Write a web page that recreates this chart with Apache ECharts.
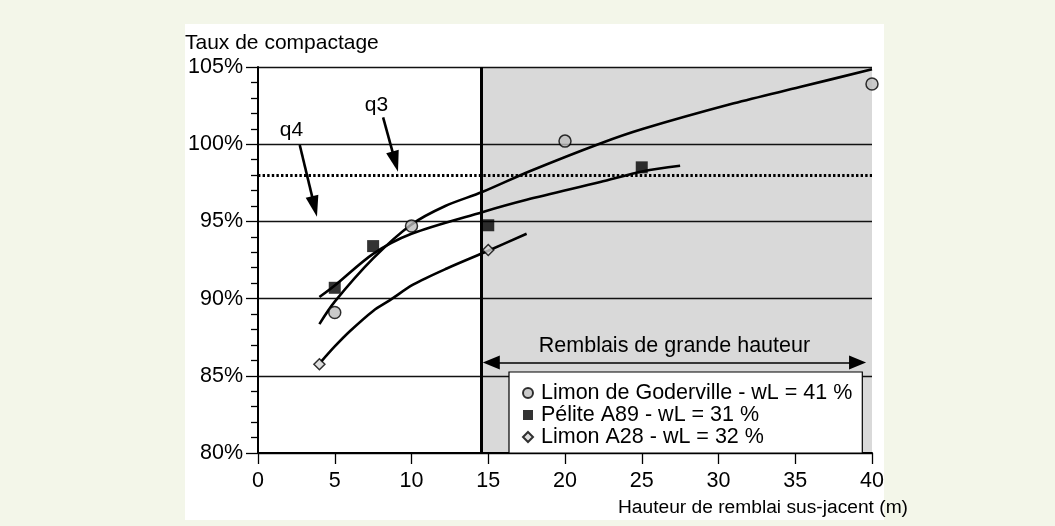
<!DOCTYPE html>
<html><head><meta charset="utf-8">
<script src="https://cdn.jsdelivr.net/npm/echarts@6/dist/echarts.min.js"></script>
<style>html,body{margin:0;padding:0;background:#f3f6e9}#c{width:1055px;height:526px}</style>
</head><body><div id="c"></div>
<script>
// ---- data ----
const seriesNames = ['Limon de Goderville - wL = 41 %', 'Pélite A89 - wL = 31 %', 'Limon A28 - wL = 32 %'];
const goderX = [5, 10, 20, 40];
const goderY = [89.1, 94.7, 100.2, 103.9];
const peliteX = [5, 7.5, 15, 25];
const peliteY = [90.7, 93.4, 94.75, 98.5];
const a28X = [4, 15];
const a28Y = [85.75, 93.15];
// fitted curves
const fitGoderX = [4, 5, 7.5, 10, 12.2, 14.6, 17.7, 22.3, 25.1, 31, 35.3, 40];
const fitGoderY = [88.35, 89.8, 92.6, 94.8, 96.0, 96.9, 98.25, 100.05, 101.0, 102.65, 103.7, 104.85];
const fitPeliteX = [4, 5, 7.5, 10, 14.6, 17.5, 22.3, 25.1, 27.5];
const fitPeliteY = [90.1, 90.85, 92.9, 94.2, 95.6, 96.4, 97.55, 98.25, 98.6];
const fitA28X = [4.1, 5, 6, 7.5, 8.6, 10.1, 12.3, 15, 17.5];
const fitA28Y = [85.9, 86.9, 87.9, 89.2, 89.9, 90.9, 91.95, 93.1, 94.2];
// annotations
const zoneStart = 14.57, zoneEnd = 40;
const refLevel = 98;
const zoneArrow = {y: 85.86, from: 15.2, to: 39.06, text: 'Remblais de grande hauteur'};
const qArrows = [
  {name: 'q4', label: [2.18, 100.9], from: [2.72, 99.95], to: [3.68, 95.97]},
  {name: 'q3', label: [7.72, 102.54], from: [8.15, 101.74], to: [8.94, 98.87]}
];
const xAxisName = 'Hauteur de remblai sus-jacent (m)';
const yAxisName = 'Taux de compactage';

const zip = (xs, ys) => xs.map((x, i) => [x, ys[i]]);
const FONT = 'Liberation Sans, Arial, Helvetica, sans-serif';
const black = '#000';
const fitLine = (data, extra) => Object.assign({
  type: 'line', data, smooth: 0.3, showSymbol: false, silent: true, z: 3,
  lineStyle: {color: black, width: 2.6}
}, extra || {});

const chart = echarts.init(document.getElementById('c'));
chart.setOption({
  animation: false,
  backgroundColor: '#f3f6e9',
  textStyle: {fontFamily: FONT},
  graphic: [{type: 'rect', z: -10, silent: true, shape: {x: 185, y: 24, width: 699, height: 496}, style: {fill: '#fff'}}],
  title: {text: yAxisName, left: 185, top: 33, padding: 0,
    textStyle: {fontSize: 21, fontWeight: 'normal', color: black, fontFamily: FONT}},
  grid: {left: 258, top: 67, right: 183, bottom: 73},
  legend: {
    data: seriesNames, orient: 'vertical', left: 509, top: 372,
    itemWidth: 10, itemHeight: 10, itemGap: 0,
    padding: [10, 10, 5, 13], backgroundColor: '#fff', borderColor: black, borderWidth: 1.2, borderRadius: 0,
    textStyle: {fontSize: 21.5, lineHeight: 20.5, color: black, fontFamily: FONT, padding: [0, 0, 0, 3]}
  },
  xAxis: {
    type: 'value', min: 0, max: 40, interval: 5,
    axisLine: {show: true, lineStyle: {color: black, width: 2}},
    axisTick: {show: true, length: 11, lineStyle: {color: black, width: 1.3}},
    axisLabel: {color: black, fontSize: 21.5, margin: 17, fontFamily: FONT},
    splitLine: {show: false},
    name: xAxisName, nameLocation: 'end', nameGap: 36,
    nameTextStyle: {color: black, fontSize: 19.2, align: 'right', verticalAlign: 'top', padding: [45, 0, 0, 0], fontFamily: FONT}
  },
  yAxis: {
    type: 'value', min: 80, max: 105, interval: 5,
    axisLine: {show: true, lineStyle: {color: black, width: 2}},
    axisTick: {show: true, length: 12, lineStyle: {color: black, width: 1.3}},
    minorTick: {show: true, splitNumber: 5, length: 7, lineStyle: {color: black, width: 1.3}},
    axisLabel: {formatter: '{value}%', color: black, fontSize: 21.5, margin: 15, fontFamily: FONT},
    splitLine: {show: true, lineStyle: {color: '#111', width: 1.3}}
  },
  series: [
    fitLine(zip(fitGoderX, fitGoderY), {
      markArea: {silent: true, z: -1, itemStyle: {color: '#d9d9d9'},
        data: [[{xAxis: zoneStart}, {xAxis: zoneEnd}]]},
      markLine: {silent: true, symbol: 'none', z: 4, label: {show: false},
        data: [
          [{coord: [zoneStart, 80], lineStyle: {color: black, width: 3, type: 'solid'}}, {coord: [zoneStart, 105]}],
          [{coord: [0, refLevel], lineStyle: {color: black, width: 2.8, type: [2.4, 2.2]}}, {coord: [40, refLevel]}],
          [{coord: [zoneArrow.from, zoneArrow.y], symbol: 'triangle', symbolSize: [14, 17],
            lineStyle: {color: black, width: 1.5, type: 'solid'},
            label: {show: true, position: 'middle', formatter: zoneArrow.text, color: black, fontSize: 21.5, distance: 5, fontFamily: FONT}},
           {coord: [zoneArrow.to, zoneArrow.y], symbol: 'triangle', symbolSize: [14, 17]}]
        ].concat(qArrows.map(q => [
          {coord: q.from, symbol: 'none', lineStyle: {color: black, width: 2.6, type: 'solid'}},
          {coord: q.to, symbol: 'triangle', symbolSize: [13, 21]}
        ])),
        itemStyle: {color: black}
      },
      markPoint: {silent: true, symbol: 'circle', symbolSize: 0,
        label: {show: true, position: 'inside', color: black, fontSize: 21, fontFamily: FONT, formatter: p => p.name},
        data: qArrows.map(q => ({name: q.name, coord: q.label}))}
    }),
    fitLine(zip(fitPeliteX, fitPeliteY)),
    fitLine(zip(fitA28X, fitA28Y)),
    {name: seriesNames[0], type: 'scatter', z: 5, symbol: 'circle', symbolSize: 12,
      itemStyle: {color: '#bdbdbd', borderColor: black, borderWidth: 1.5}, data: zip(goderX, goderY)},
    {name: seriesNames[1], type: 'scatter', z: 5, symbol: 'rect', symbolSize: 12,
      itemStyle: {color: '#000', borderColor: black, borderWidth: 0}, data: zip(peliteX, peliteY)},
    {name: seriesNames[2], type: 'scatter', z: 5, symbol: 'diamond', symbolSize: 11,
      itemStyle: {color: '#d6d6d6', borderColor: black, borderWidth: 1.5}, data: zip(a28X, a28Y)}
  ]
});
</script></body></html>
